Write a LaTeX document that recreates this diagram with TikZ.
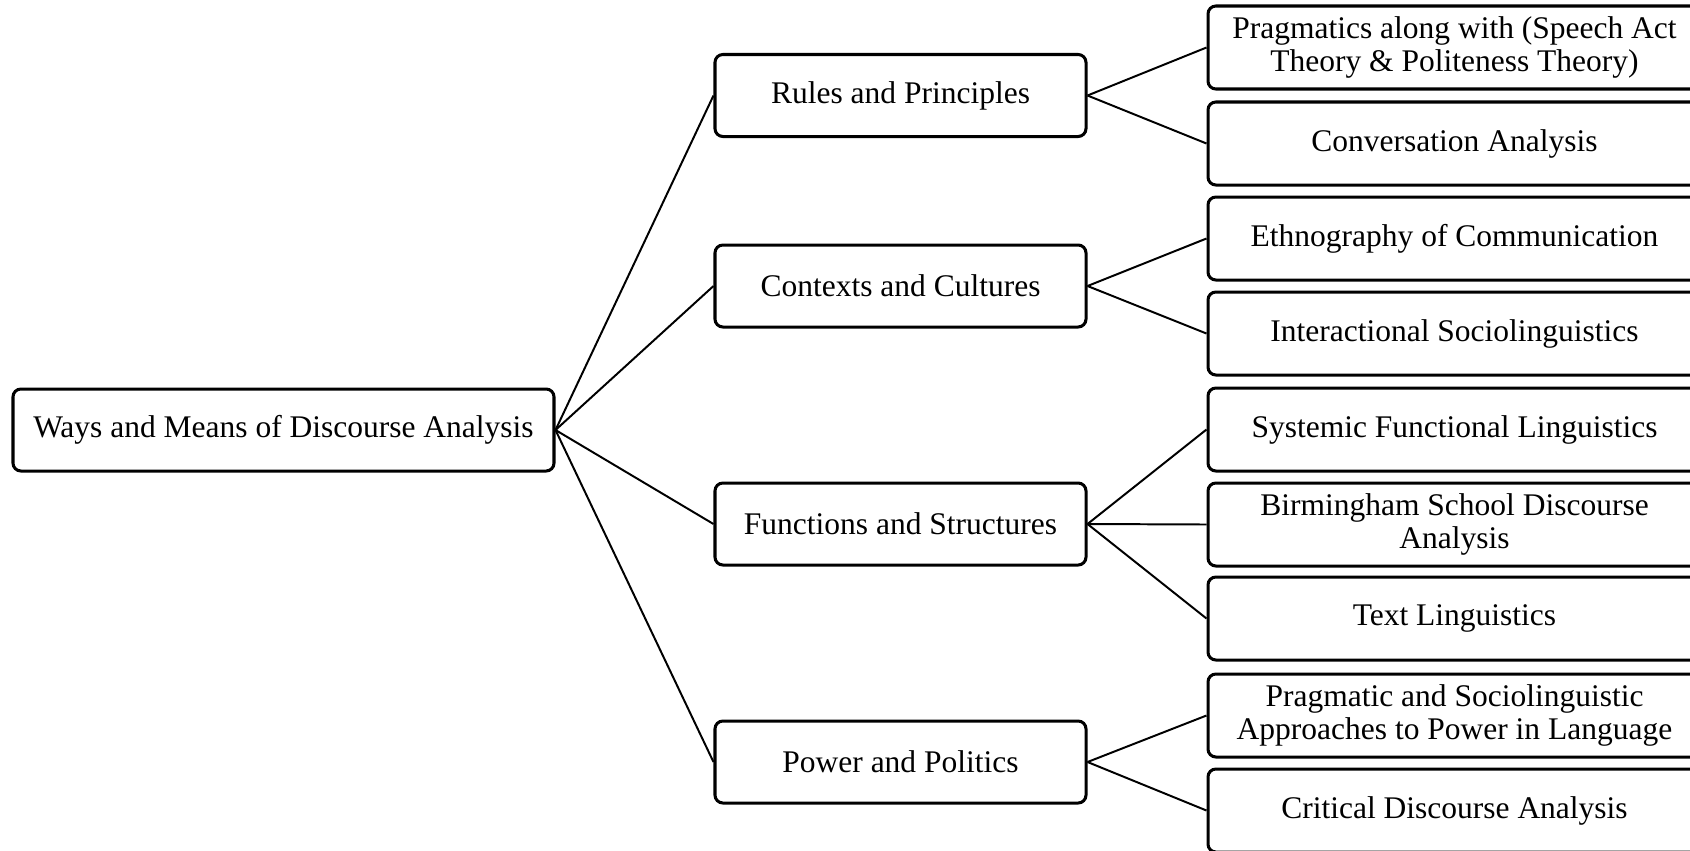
\documentclass[tikz,border=0pt]{standalone}
\usepackage{fontspec}
\setmainfont{Liberation Serif}
\begin{document}
\begin{tikzpicture}[x=0.381pt,y=-0.381pt,
  box/.style={draw, line width=1.15pt, rounded corners=3pt, fill=white,
    align=center, inner sep=0pt, font=\fontsize{12}{12.4}\selectfont},
  rootbox/.style={box, minimum width=541*0.381pt, minimum height=82*0.381pt},
  midbox/.style={box, minimum width=371*0.381pt, minimum height=82*0.381pt},
  leafbox/.style={box, minimum width=493*0.381pt, minimum height=83*0.381pt},
  link/.style={line width=0.75pt}]
\clip (0,0) rectangle (1690,850);

% root
\node[rootbox] (root) at (283.5,430) {Ways and Means of Discourse Analysis};

% second level
\node[midbox] (rules) at (900.5,95.5) {Rules and Principles};
\node[midbox] (ctx)   at (900.5,286)  {Contexts and Cultures};
\node[midbox] (func)  at (900.5,524)  {Functions and Structures};
\node[midbox] (power) at (900.5,762)  {Power and Politics};

% leaves
\node[leafbox] (prag)  at (1454.5,47.5)  {Pragmatics along with (Speech Act\\Theory \& Politeness Theory)};
\node[leafbox] (conv)  at (1454.5,143.5) {Conversation Analysis};
\node[leafbox] (ethno) at (1454.5,238.5) {Ethnography of Communication};
\node[leafbox] (inter) at (1454.5,333.5) {Interactional Sociolinguistics};
\node[leafbox] (sfl)   at (1454.5,429.5) {Systemic Functional Linguistics};
\node[leafbox] (birm)  at (1454.5,524.5) {Birmingham School Discourse\\Analysis};
\node[leafbox] (text)  at (1454.5,618.5) {Text Linguistics};
\node[leafbox] (psoc)  at (1454.5,715.5) {Pragmatic and Sociolinguistic\\Approaches to Power in Language};
\node[leafbox] (cda)   at (1454.5,810.5) {Critical Discourse Analysis};

% connectors
\foreach \m in {rules,ctx,func,power}
  \draw[link] (root.east) -- (\m.west);
\draw[link] (rules.east) -- (prag.west);
\draw[link] (rules.east) -- (conv.west);
\draw[link] (ctx.east) -- (ethno.west);
\draw[link] (ctx.east) -- (inter.west);
\draw[link] (func.east) -- (sfl.west);
\draw[link] (func.east) -- (birm.west);
\draw[link] (func.east) -- (text.west);
\draw[link] (power.east) -- (psoc.west);
\draw[link] (power.east) -- (cda.west);
\end{tikzpicture}
\end{document}
